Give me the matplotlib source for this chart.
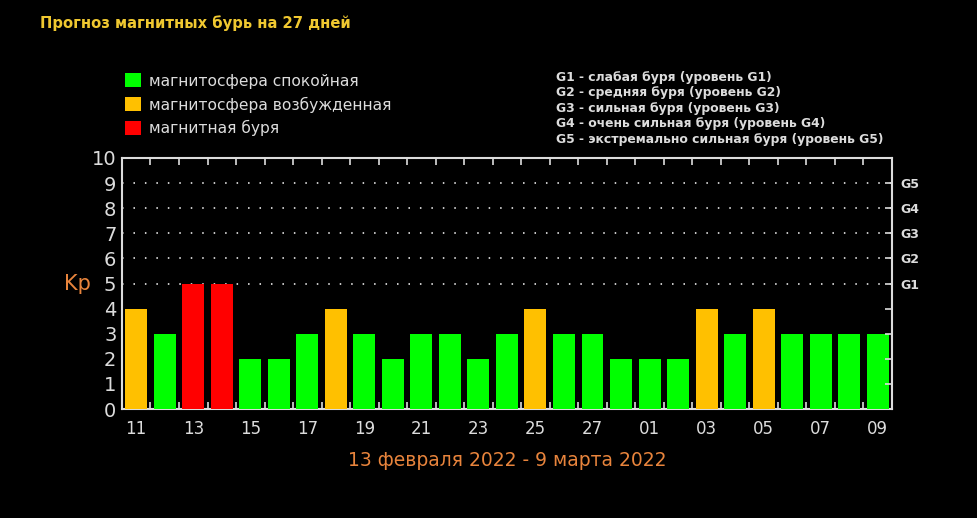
import numpy as np
import matplotlib
matplotlib.use("Agg")
import matplotlib.pyplot as plt
from matplotlib.patches import Patch

# ── data ──────────────────────────────────────────────────────────────────────
DAYS = ["11", "12", "13", "14", "15", "16", "17", "18", "19", "20", "21", "22",
        "23", "24", "25", "26", "27", "28", "01", "02", "03", "04", "05", "06",
        "07", "08", "09"]
KP = [4, 3, 5, 5, 2, 2, 3, 4, 3, 2, 3, 3, 2, 3, 4, 3, 3, 2, 2, 2, 4, 3, 4, 3, 3, 3, 3]
LEGEND_LABELS = ["магнитосфера спокойная", "магнитосфера возбужденная", "магнитная буря"]
G_LEVELS = [5, 6, 7, 8, 9]
G_TICKS = ["G1", "G2", "G3", "G4", "G5"]
G_NOTES = [
    "G1 - слабая буря (уровень G1)",
    "G2 - средняя буря (уровень G2)",
    "G3 - сильная буря (уровень G3)",
    "G4 - очень сильная буря (уровень G4)",
    "G5 - экстремально сильная буря (уровень G5)",
]
TITLE = "Прогноз магнитных бурь на 27 дней"
PERIOD = "13 февраля 2022 - 9 марта 2022"

GREEN, ORANGE, RED = "#00FF00", "#FFC000", "#FF0000"
FG = "#DCDCDC"
ORANGE_TXT = "#E8843C"


def bar_color(v):
    if v >= 5:
        return RED
    if v == 4:
        return ORANGE
    return GREEN


fig = plt.figure(figsize=(9.78, 5.18), dpi=100, facecolor="black")
ax = fig.add_axes([0.1247, 0.2104, 0.7873, 0.4846], facecolor="black")

x = np.arange(len(KP))
ax.bar(x, KP, width=0.77, color=[bar_color(v) for v in KP], zorder=3)

# dotted storm-level lines
ax.hlines(G_LEVELS, -0.5, len(KP) - 0.5, colors="white",
          linestyles=(0, (1, 6.5)), linewidth=1.1, zorder=1)

ax.set_xlim(-0.5, len(KP) - 0.5)
ax.set_ylim(0, 10)

ax.set_xticks(x[::2])
ax.set_xticklabels(DAYS[::2], fontsize=12, color=FG)
ax.set_xticks(x[:-1] + 0.5, minor=True)
ax.tick_params(axis="x", which="major", length=0, pad=8)
ax.tick_params(axis="x", which="minor", direction="in", length=5, width=1.2,
               color=FG, top=True, bottom=True)

ax.set_yticks(range(0, 11))
ax.tick_params(axis="y", which="major", length=0, pad=4, labelsize=14, labelcolor=FG)

for s in ax.spines.values():
    s.set_color(FG)
    s.set_linewidth(1.5)

ax.set_ylabel("Kp", rotation=0, fontsize=15, color=ORANGE_TXT, va="center", ha="center")
ax.yaxis.set_label_coords(-0.058, 0.5)

# right-hand G levels
ax_r = ax.twinx()
ax_r.set_ylim(0, 10)
ax_r.set_yticks(G_LEVELS)
ax_r.set_yticklabels(G_TICKS, fontsize=9, fontweight="bold", color=FG)
ax_r.set_yticks(range(1, 10), minor=True)
ax_r.tick_params(axis="y", which="major", direction="in", length=5, width=1.2,
                 color=FG, pad=6)
ax_r.tick_params(axis="y", which="minor", direction="in", length=5, width=1.2, color=FG)
for s in ax_r.spines.values():
    s.set_visible(False)

# period label
ax.set_xlabel(PERIOD, fontsize=13.5, color=ORANGE_TXT, labelpad=9.5)

# title
fig.text(0.041, 0.955, TITLE, fontsize=10.6, fontweight="bold", color="#F0C830",
         ha="left", va="center")

# colour legend
handles = [Patch(facecolor=c, edgecolor="none") for c in (GREEN, ORANGE, RED)]
fig.legend(handles, LEGEND_LABELS, loc="upper left", bbox_to_anchor=(0.121, 0.871),
           frameon=False, fontsize=11.2, labelcolor=FG, handlelength=1.05,
           handleheight=1.05, handletextpad=0.5, labelspacing=0.5, borderaxespad=0)

# G-level notes
for i, note in enumerate(G_NOTES):
    fig.text(0.568, 0.851 - i * 0.0300, note, fontsize=8.9, fontweight="bold",
             color=FG, ha="left", va="center")

fig.savefig("out.png", dpi=100, facecolor="black")
